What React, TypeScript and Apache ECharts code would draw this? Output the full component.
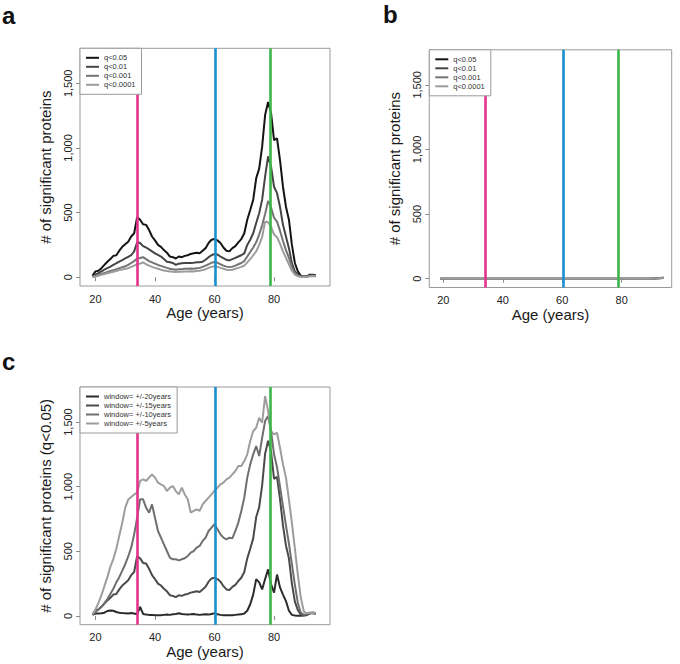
import React, { useEffect, useRef } from "react";
import * as echarts from "echarts";

// ---------- data ----------
const AGES = [19, 20, 21, 22, 23, 24, 25, 26, 27, 28, 29, 30, 31, 32, 33, 34, 35, 36, 37, 38, 39, 40, 41, 42, 43, 44, 45, 46, 47, 48, 49, 50, 51, 52, 53, 54, 55, 56, 57, 58, 59, 60, 61, 62, 63, 64, 65, 66, 67, 68, 69, 70, 71, 72, 73, 74, 75, 76, 77, 78, 79, 80, 81, 82, 83, 84, 85, 86, 87, 88, 89, 90, 91, 92, 93, 94];

// panel a: number of significant proteins by q threshold
const A_NAMES = ["q<0.05", "q<0.01", "q<0.001", "q<0.0001"];
const A_Q05 = [10, 45, 50, 70, 95, 120, 140, 165, 170, 205, 235, 255, 275, 315, 340, 465, 445, 410, 405, 365, 315, 285, 250, 235, 210, 190, 160, 155, 145, 160, 155, 165, 170, 180, 185, 190, 185, 205, 225, 265, 290, 295, 285, 265, 230, 205, 200, 225, 240, 270, 295, 340, 445, 520, 600, 765, 840, 1010, 1255, 1355, 1270, 1060, 1075, 905, 700, 545, 445, 250, 110, 45, 10, 5, 5, 20, 20, 15];
const A_Q01 = [5, 20, 32, 45, 58, 70, 82, 95, 108, 120, 132, 145, 158, 170, 200, 270, 265, 240, 230, 215, 200, 185, 172, 160, 140, 120, 115, 110, 95, 105, 108, 110, 110, 110, 112, 115, 115, 120, 135, 155, 170, 180, 175, 160, 148, 135, 130, 140, 150, 160, 170, 185, 250, 290, 340, 420, 495, 600, 780, 935, 855, 700, 650, 545, 405, 315, 225, 110, 45, 20, 8, 5, 5, 15, 15, 12];
const A_Q001 = [3, 10, 18, 25, 32, 40, 48, 55, 62, 70, 78, 85, 95, 110, 125, 145, 148, 155, 140, 125, 115, 105, 95, 88, 80, 72, 65, 62, 58, 62, 62, 65, 65, 68, 65, 70, 72, 80, 90, 100, 112, 118, 112, 100, 90, 82, 78, 82, 90, 100, 110, 125, 160, 195, 230, 270, 330, 400, 490, 590, 540, 460, 430, 360, 280, 210, 150, 80, 30, 12, 5, 3, 3, 10, 12, 10];
const A_Q0001 = [2, 6, 12, 18, 24, 30, 36, 42, 48, 55, 60, 65, 70, 80, 90, 100, 105, 115, 100, 90, 80, 72, 65, 58, 52, 48, 45, 42, 40, 42, 42, 44, 44, 46, 44, 48, 50, 55, 62, 72, 80, 85, 80, 72, 65, 58, 55, 58, 65, 72, 80, 90, 115, 140, 170, 200, 250, 310, 430, 425, 390, 330, 310, 260, 200, 150, 100, 50, 20, 8, 3, 2, 2, 8, 10, 8];

// panel b: same thresholds, essentially zero everywhere
const B_Q05 = [0, 0, 0, 0, 0, 0, 0, 0, 0, 0, 0, 0, 0, 0, 0, 0, 0, 0, 0, 0, 0, 0, 0, 0, 0, 0, 0, 0, 0, 0, 0, 0, 0, 0, 0, 0, 0, 0, 0, 0, 0, 0, 0, 0, 0, 0, 0, 0, 0, 0, 0, 0, 0, 0, 0, 0, 0, 0, 0, 0, 0, 0, 0, 0, 0, 0, 0, 0, 0, 0, 0, 0, 2, 4, 6, 8];
const B_Q01 = [0, 0, 0, 0, 0, 0, 0, 0, 0, 0, 0, 0, 0, 0, 0, 0, 0, 0, 0, 0, 0, 0, 0, 0, 0, 0, 0, 0, 0, 0, 0, 0, 0, 0, 0, 0, 0, 0, 0, 0, 0, 0, 0, 0, 0, 0, 0, 0, 0, 0, 0, 0, 0, 0, 0, 0, 0, 0, 0, 0, 0, 0, 0, 0, 0, 0, 0, 0, 0, 0, 0, 0, 2, 4, 5, 7];
const B_Q001 = [0, 0, 0, 0, 0, 0, 0, 0, 0, 0, 0, 0, 0, 0, 0, 0, 0, 0, 0, 0, 0, 0, 0, 0, 0, 0, 0, 0, 0, 0, 0, 0, 0, 0, 0, 0, 0, 0, 0, 0, 0, 0, 0, 0, 0, 0, 0, 0, 0, 0, 0, 0, 0, 0, 0, 0, 0, 0, 0, 0, 0, 0, 0, 0, 0, 0, 0, 0, 0, 0, 0, 0, 1, 3, 4, 6];
const B_Q0001 = [0, 0, 0, 0, 0, 0, 0, 0, 0, 0, 0, 0, 0, 0, 0, 0, 0, 0, 0, 0, 0, 0, 0, 0, 0, 0, 0, 0, 0, 0, 0, 0, 0, 0, 0, 0, 0, 0, 0, 0, 0, 0, 0, 0, 0, 0, 0, 0, 0, 0, 0, 0, 0, 0, 0, 0, 0, 0, 0, 0, 0, 0, 0, 0, 0, 0, 0, 0, 0, 0, 0, 0, 1, 2, 4, 5];

// panel c: q<0.05 counts by window size
const C_NAMES = ["window= +/-20years", "window= +/-15years", "window= +/-10years", "window= +/-5years"];
const C_W20 = [8, 18, 18, 20, 25, 38, 42, 40, 30, 25, 22, 20, 18, 22, 18, 12, 70, 15, 10, 8, 8, 6, 5, 5, 8, 10, 8, 12, 15, 20, 15, 12, 10, 12, 15, 10, 8, 10, 12, 10, 15, 20, 12, 8, 5, 5, 5, 5, 8, 10, 12, 18, 40, 90, 165, 285, 260, 205, 285, 360, 245, 180, 320, 220, 165, 115, 40, 8, 3, 2, 2, 3, 10, 20, 25, 22];
const C_W15 = [10, 45, 50, 70, 95, 120, 140, 165, 170, 205, 235, 255, 275, 315, 340, 465, 445, 410, 405, 365, 315, 285, 250, 235, 210, 190, 160, 155, 145, 160, 155, 165, 170, 180, 185, 190, 185, 205, 225, 265, 290, 295, 285, 265, 230, 205, 200, 225, 240, 270, 295, 340, 445, 520, 600, 765, 840, 1010, 1255, 1355, 1270, 1060, 1075, 905, 700, 545, 445, 250, 110, 45, 10, 5, 5, 20, 20, 15];
const C_W10 = [10, 30, 50, 70, 100, 130, 170, 210, 260, 300, 350, 400, 460, 528, 631, 760, 902, 902, 838, 799, 863, 760, 657, 605, 554, 502, 451, 438, 438, 430, 438, 446, 464, 490, 502, 528, 541, 580, 605, 657, 683, 709, 670, 631, 605, 593, 605, 600, 657, 722, 812, 915, 1070, 1173, 1250, 1314, 1237, 1378, 1508, 1546, 1430, 1250, 1150, 1000, 850, 700, 560, 400, 240, 100, 25, 8, 15, 25, 25, 22];
const C_W5 = [10, 50, 100, 160, 230, 300, 380, 440, 520, 620, 720, 838, 900, 920, 940, 953, 1044, 1057, 1044, 1070, 1095, 1070, 1031, 1018, 1005, 966, 992, 1005, 966, 940, 992, 940, 902, 799, 812, 825, 812, 863, 889, 915, 940, 970, 992, 1018, 1031, 1057, 1070, 1095, 1121, 1160, 1160, 1198, 1250, 1353, 1430, 1456, 1533, 1495, 1701, 1585, 1430, 1404, 1417, 1301, 1173, 1070, 900, 720, 520, 320, 140, 35, 20, 25, 25, 20];

// reference ages (vertical lines)
const VLINES = [34, 60.4, 78.7];
const VCOLORS = ["#e5338b", "#1a8fd3", "#3cb54b"];

const X_TICKS = [20, 40, 60, 80];
const Y_TICKS = [0, 500, 1000, 1500];

const A_COLORS = ["#141414", "#454545", "#747474", "#9c9c9c"];
const C_COLORS = ["#2b2b2b", "#4a4a4a", "#6f6f6f", "#9d9d9d"];

const FONT = "'Liberation Sans', Arial, Helvetica, sans-serif";

function pairs(vals: number[]) {
  return AGES.map((a, i) => [a, vals[i]]);
}

function xAxisCfg(gridIndex: number, min: number, max: number) {
  return {
    type: "value",
    gridIndex,
    min,
    max,
    name: "Age (years)",
    nameLocation: "middle",
    nameGap: 19,
    nameTextStyle: { fontSize: 15, color: "#1a1a1a", fontFamily: FONT },
    axisLine: { show: false },
    axisTick: { show: true, length: 4, lineStyle: { color: "#8a8a8a" }, customValues: X_TICKS },
    axisLabel: { customValues: X_TICKS, margin: 7, fontSize: 11, color: "#222", fontFamily: FONT },
    splitLine: { show: false },
  };
}

function yAxisCfg(gridIndex: number, name: string) {
  return {
    type: "value",
    gridIndex,
    min: -68,
    max: 1771,
    name,
    nameLocation: "middle",
    nameGap: 27,
    nameTextStyle: { fontSize: 15, color: "#1a1a1a", fontFamily: FONT },
    axisLine: { show: false },
    axisTick: { show: true, length: 4, lineStyle: { color: "#8a8a8a" }, customValues: Y_TICKS },
    axisLabel: {
      customValues: Y_TICKS,
      rotate: 90,
      margin: 7,
      fontSize: 11,
      color: "#222",
      fontFamily: FONT,
      formatter: (v: number) => v.toLocaleString("en-US"),
    },
    splitLine: { show: false },
  };
}

function lineSeries(name: string, vals: number[], color: string, idx: number, withMarks: boolean) {
  const s: any = {
    type: "line",
    name,
    xAxisIndex: idx,
    yAxisIndex: idx,
    data: pairs(vals),
    showSymbol: false,
    symbol: "none",
    lineStyle: { color, width: 2 },
    itemStyle: { color },
    z: 2,
  };
  if (withMarks) {
    s.markLine = {
      silent: true,
      symbol: ["none", "none"],
      label: { show: false },
      data: VLINES.map((v, i) => ({ xAxis: v, lineStyle: { color: VCOLORS[i], width: 2.6, type: "solid" } })),
    };
  }
  return s;
}

function legendCfg(names: string[], left: number, top: number) {
  return {
    data: names,
    left,
    top,
    orient: "vertical",
    icon: "rect",
    itemWidth: 13,
    itemHeight: 2,
    itemGap: 0,
    padding: [5, 6, 5, 6],
    borderColor: "#9a9a9a",
    borderWidth: 1,
    borderRadius: 0,
    backgroundColor: "#ffffff",
    selectedMode: false,
    textStyle: { fontSize: 7.5, lineHeight: 9, color: "#333", fontFamily: FONT },
    z: 10,
  };
}

export default function App() {
  const ref = useRef<HTMLDivElement>(null);
  useEffect(() => {
    document.body.style.margin = "0";
    if (!ref.current) return;
    const chart = echarts.init(ref.current, undefined, { renderer: "svg" });
    const aVals = [A_Q05, A_Q01, A_Q001, A_Q0001];
    const bVals = [B_Q05, B_Q01, B_Q001, B_Q0001];
    const cVals = [C_W20, C_W15, C_W10, C_W5];
    const series: any[] = [];
    aVals.forEach((v, i) => series.push(lineSeries(A_NAMES[i], v, A_COLORS[i], 0, i === 3)));
    bVals.forEach((v, i) => series.push(lineSeries(A_NAMES[i], v, A_COLORS[i], 1, i === 3)));
    cVals.forEach((v, i) => series.push(lineSeries(C_NAMES[i], v, C_COLORS[i], 2, i === 3)));

    const titleStyle = { fontSize: 24, fontWeight: "bold", color: "#111", fontFamily: FONT };
    chart.setOption({
      animation: false,
      backgroundColor: "#ffffff",
      textStyle: { fontFamily: FONT },
      title: [
        { text: "a", left: 2, top: 3, padding: 0, textStyle: titleStyle },
        { text: "b", left: 383, top: 2, padding: 0, textStyle: titleStyle },
        { text: "c", left: 2, top: 349, padding: 0, textStyle: titleStyle },
      ],
      grid: [
        { left: 80, top: 48.3, width: 250, height: 237.7, show: true, borderColor: "#9a9a9a", borderWidth: 1, backgroundColor: "transparent" },
        { left: 429.3, top: 49.8, width: 242.4, height: 237.7, show: true, borderColor: "#9a9a9a", borderWidth: 1, backgroundColor: "transparent" },
        { left: 80, top: 387, width: 250, height: 237.7, show: true, borderColor: "#9a9a9a", borderWidth: 1, backgroundColor: "transparent" },
      ],
      xAxis: [xAxisCfg(0, 14.8, 98.8), xAxisCfg(1, 15.3, 96.8), xAxisCfg(2, 14.8, 98.8)],
      yAxis: [
        yAxisCfg(0, "# of significant proteins"),
        yAxisCfg(1, "# of significant proteins"),
        yAxisCfg(2, "# of significant proteins (q<0.05)"),
      ],
      legend: [legendCfg(A_NAMES, 80, 48.3), legendCfg(A_NAMES, 429.3, 49.8), legendCfg(C_NAMES, 80, 387)],
      series,
    });
    return () => chart.dispose();
  }, []);
  return <div ref={ref} style={{ width: 680, height: 664 }} />;
}
